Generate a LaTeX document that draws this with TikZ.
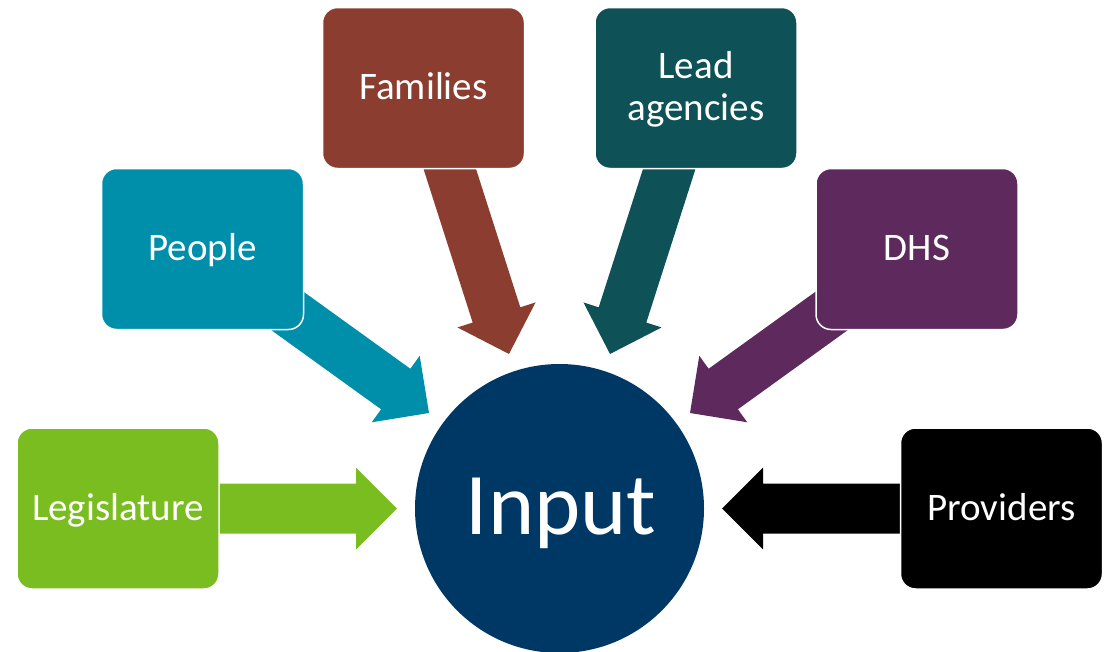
\documentclass[tikz,border=0pt]{standalone}
\usepackage{fontspec}
\setmainfont{Carlito}
\usetikzlibrary{calc}
\definecolor{cgreen}{RGB}{122,189,32}
\definecolor{cteal}{RGB}{0,143,170}
\definecolor{cbrown}{RGB}{139,62,47}
\definecolor{cdteal}{RGB}{14,82,87}
\definecolor{cpurple}{RGB}{94,42,94}
\definecolor{cnavy}{RGB}{0,56,101}
\newcommand\blockarrow[3]{%
  \fill[#1] let \p1=(#2), \p2=(#3),
    \n1={atan2(\y2-\y1,\x2-\x1)}, \n2={veclen(\x2-\x1,\y2-\y1)} in
    [shift={(\p1)}, rotate=\n1]
    (0pt,25pt) -- (\n2-41pt,25pt) -- (\n2-41pt,41pt) -- (\n2,0pt)
    -- (\n2-41pt,-41pt) -- (\n2-41pt,-25pt) -- (0pt,-25pt) -- cycle;}
\tikzset{
  srcbox/.style={rectangle, rounded corners=15pt, minimum width=202pt,
    minimum height=161pt, inner sep=0pt, draw=white, line width=1.5pt,
    text=white, align=center, font=\fontsize{39}{44}\selectfont},
  oneline/.style={text height=27pt, text depth=4pt},
}
\begin{document}
\begin{tikzpicture}[x=1pt,y=-1pt]
\useasboundingbox (0,0) rectangle (1106,651);
% coordinates
\coordinate (tLeg) at (200,508.5);  \coordinate (hLeg) at (397,508.5);
\coordinate (tPro) at (919,508.5);  \coordinate (hPro) at (722,508.5);
\coordinate (tPeo) at (266,295.5);  \coordinate (hPeo) at (429,413);
\coordinate (tDHS) at (853,295.5);  \coordinate (hDHS) at (690,413);
\coordinate (tFam) at (443.7,150);  \coordinate (hFam) at (509,354);
\coordinate (tLea) at (675.3,150);  \coordinate (hLea) at (610,354);
% arrows
\blockarrow{cgreen}{tLeg}{hLeg}
\blockarrow{black}{tPro}{hPro}
\blockarrow{cteal}{tPeo}{hPeo}
\blockarrow{cpurple}{tDHS}{hDHS}
\blockarrow{cbrown}{tFam}{hFam}
\blockarrow{cdteal}{tLea}{hLea}
% boxes
\node[srcbox, oneline, fill=cgreen] (leg) at (118,508.5) {Legislature};
\node[srcbox, oneline, fill=cteal] (peo) at (202.5,249) {People};
\node[srcbox, oneline, fill=cbrown] (fam) at (423.5,88) {Families};
\node[srcbox, fill=cdteal] (lea) at (696,88) {};
\node[anchor=base, text=white, align=center, inner sep=0pt,
  font=\fontsize{39}{42}\selectfont] (lealabel) at (696,120) {Lead\\agencies};
\node[srcbox, oneline, fill=cpurple] (dhs) at (917,249) {DHS};
\node[srcbox, oneline, fill=black] (pro) at (1001.5,508.5) {Providers};
% circle
\node[circle, minimum size=289pt, inner sep=0pt, fill=cnavy] (input) at (559.5,508.5) {};
\node[anchor=base, text=white, inner sep=0pt, font=\fontsize{88}{100}\selectfont] (inputlabel) at (561,534) {Input};
\end{tikzpicture}
\end{document}
